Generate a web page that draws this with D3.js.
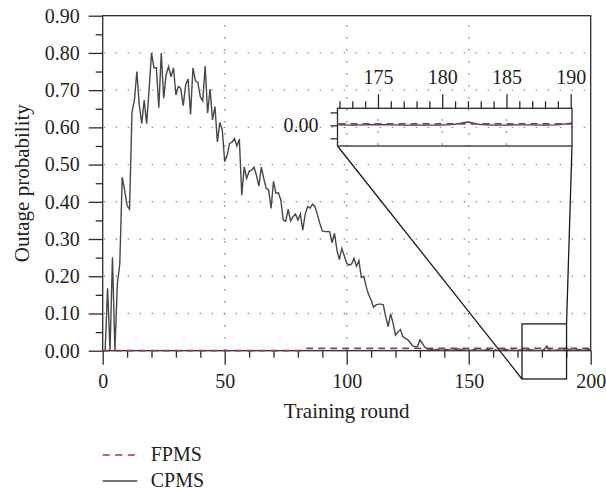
<!DOCTYPE html>
<html>
<head>
<meta charset="utf-8">
<script src="https://cdn.jsdelivr.net/npm/d3@7"></script>
<style>
  body { margin: 0; background: #fff; }
</style>
</head>
<body>
<div id="chart"></div>
<script>
// Outage probability per training round (rounds 0..200)
const cpms = [
  0, 0, 0.168, 0, 0.251, 0, 0.18, 0.233, 0.466, 0.43,
  0.39, 0.38, 0.64, 0.673, 0.75, 0.66, 0.61, 0.673, 0.61, 0.70,
  0.80, 0.76, 0.76, 0.653, 0.80, 0.678, 0.742, 0.763, 0.736, 0.76,
  0.687, 0.71, 0.705, 0.658, 0.714, 0.73, 0.635, 0.76, 0.725, 0.721,
  0.682, 0.671, 0.765, 0.638, 0.703, 0.62, 0.656, 0.561, 0.613, 0.593,
  0.508, 0.525, 0.557, 0.56, 0.57, 0.55, 0.568, 0.418, 0.494, 0.463,
  0.482, 0.485, 0.493, 0.472, 0.442, 0.493, 0.463, 0.436, 0.432, 0.382,
  0.455, 0.423, 0.424, 0.405, 0.351, 0.348, 0.38, 0.349, 0.36, 0.367,
  0.351, 0.367, 0.324, 0.367, 0.387, 0.383, 0.394, 0.387, 0.365, 0.342,
  0.322, 0.32, 0.32, 0.32, 0.29, 0.315, 0.27, 0.245, 0.275, 0.255,
  0.235, 0.23, 0.233, 0.248, 0.227, 0.242, 0.197, 0.2, 0.172, 0.15,
  0.136, 0.117, 0.123, 0.125, 0.125, 0.123, 0.091, 0.065, 0.099, 0.074,
  0.042, 0.05, 0.057, 0.038, 0.033, 0.03, 0.022, 0.013, 0.011, 0.011,
  0.029, 0.02, 0.009, 0.005, 0.004, 0.003, 0.002, 0.003, 0.002, 0.001,
  0.002, 0.003, 0.002, 0.001, 0.002, 0.003, 0.005, 0.003, 0.002, 0.001,
  0.002, 0.001, 0.003, 0.002, 0.001, 0.002, 0.001, 0.002, 0.003, 0.001,
  0.001, 0.002, 0.001, 0.001, 0.002, 0.004, 0.002, 0.001, 0.002, 0.001,
  0.001, 0.002, 0.002, 0.001, 0.002, 0.003, 0.002, 0.001, 0.001, 0.001,
  0.001, 0.004, 0.013, 0.003, 0.001, 0.001, 0.002, 0.002, 0.001, 0.002,
  0.008, 0.003, 0.002, 0.001, 0.002, 0.003, 0.002, 0.001, 0.002, 0.003,
  0.004
];
const fpms = [
  0, 0, 0, 0, 0, 0, 0, 0, 0, 0,
  0, 0, 0, 0, 0, 0, 0, 0, 0, 0,
  0, 0, 0, 0, 0, 0, 0, 0, 0, 0,
  0, 0, 0, 0, 0, 0, 0, 0, 0, 0,
  0, 0, 0, 0, 0, 0, 0, 0, 0, 0,
  0, 0, 0, 0, 0, 0, 0, 0, 0, 0,
  0, 0, 0, 0, 0, 0, 0, 0, 0, 0,
  0, 0, 0, 0, 0, 0, 0, 0, 0, 0,
  0, 0, 0.003, 0.006, 0.006, 0.006, 0.006, 0.006, 0.006, 0.006,
  0.006, 0.006, 0.006, 0.006, 0.006, 0.006, 0.006, 0.006, 0.006, 0.006,
  0.006, 0.006, 0.006, 0.006, 0.006, 0.006, 0.006, 0.006, 0.006, 0.006,
  0.006, 0.006, 0.006, 0.006, 0.006, 0.006, 0.006, 0.006, 0.006, 0.006,
  0.006, 0.006, 0.006, 0.006, 0.006, 0.006, 0.006, 0.006, 0.006, 0.006,
  0.006, 0.006, 0.006, 0.006, 0.006, 0.006, 0.006, 0.006, 0.006, 0.006,
  0.006, 0.006, 0.006, 0.006, 0.006, 0.006, 0.006, 0.006, 0.006, 0.006,
  0.006, 0.006, 0.006, 0.006, 0.006, 0.006, 0.006, 0.006, 0.006, 0.006,
  0.006, 0.006, 0.006, 0.006, 0.006, 0.006, 0.006, 0.006, 0.006, 0.006,
  0.006, 0.006, 0.006, 0.006, 0.006, 0.006, 0.006, 0.006, 0.006, 0.006,
  0.006, 0.006, 0.006, 0.006, 0.006, 0.006, 0.006, 0.006, 0.006, 0.006,
  0.006, 0.006, 0.006, 0.006, 0.006, 0.006, 0.006, 0.006, 0.006, 0.006,
  0.006
];
const seriesNames = ["FPMS", "CPMS"];
const xTicks = [0, 50, 100, 150, 200];
const xMinorTicks = [10, 20, 30, 40, 60, 70, 80, 90, 110, 120, 130, 140, 160, 170, 180, 190];
const yTicks = [0, 0.1, 0.2, 0.3, 0.4, 0.5, 0.6, 0.7, 0.8, 0.9];
const yMinorTicks = [0.05, 0.15, 0.25, 0.35, 0.45, 0.55, 0.65, 0.75, 0.85];
const yGrid = [0.1, 0.2, 0.3, 0.4, 0.5, 0.6, 0.7, 0.8];
const xGrid = [50, 100, 150];
const zoomX = [171.85, 190.1];      // zoomed window (rounds)
const zoomY = [-0.076, 0.072];      // zoomed window (probability)
const insetYDomain = [-0.08, 0.066];
const insetTicks = [175, 180, 185, 190];
const insetMinorTicks = [172, 173, 174, 176, 177, 178, 179, 181, 182, 183, 184, 186, 187, 188, 189];
const insetYTicks = [0];
const insetYMinor = [-0.05, 0.05];

const W = 606, H = 489;
const plot = { left: 102.7, right: 590.7, top: 15.7, bottom: 350.7 };
const colors = { FPMS: "#8c3a5e", CPMS: "#474747" };
const axisColor = "#2b2b2b";
const serif = "'Liberation Serif', serif";

const data = cpms.map((v, i) => ({ round: i, cpms: v, fpms: fpms[i] }));

const svg = d3.select("#chart").append("svg")
  .attr("width", W).attr("height", H);

const x = d3.scaleLinear().domain([0, 200]).range([plot.left, plot.right]);
const y = d3.scaleLinear().domain([0, 0.9]).range([plot.bottom, plot.top]);

// dotted grid
svg.append("g").selectAll("line.hgrid")
  .data(yGrid).join("line")
  .attr("x1", plot.left).attr("x2", plot.right)
  .attr("y1", d => y(d)).attr("y2", d => y(d))
  .attr("stroke", "#8a8a8a").attr("stroke-width", 1.4)
  .attr("stroke-dasharray", "1.4,10.6").attr("stroke-dashoffset", 11);

svg.append("g").selectAll("line.vgrid")
  .data(xGrid).join("line")
  .attr("x1", d => x(d)).attr("x2", d => x(d))
  .attr("y1", plot.top).attr("y2", plot.bottom)
  .attr("stroke", "#8a8a8a").attr("stroke-width", 1.4)
  .attr("stroke-dasharray", "1.4,10.6").attr("stroke-dashoffset", 2.7);

// axes
svg.append("g").attr("transform", `translate(0,${plot.bottom})`)
  .call(d3.axisBottom(x).tickValues(xTicks).tickSize(14).tickSizeOuter(0).tickPadding(9).tickFormat(d3.format("d")));
svg.append("g").attr("transform", `translate(0,${plot.bottom})`)
  .call(d3.axisBottom(x).tickValues(xMinorTicks).tickSize(7).tickSizeOuter(0).tickFormat(""));

svg.append("g").attr("transform", `translate(${plot.left},0)`)
  .call(d3.axisLeft(y).tickValues(yTicks).tickSize(14).tickSizeOuter(0).tickPadding(9).tickFormat(d3.format(".2f")));
svg.append("g").attr("transform", `translate(${plot.left},0)`)
  .call(d3.axisLeft(y).tickValues(yMinorTicks).tickSize(7).tickSizeOuter(0).tickFormat(""));

svg.selectAll(".domain").remove();
svg.selectAll(".tick line").attr("stroke", axisColor).attr("stroke-width", 1.3);
svg.selectAll(".tick text").style("font-size", "20px");

// frame
svg.append("rect")
  .attr("x", plot.left).attr("y", plot.top)
  .attr("width", plot.right - plot.left).attr("height", plot.bottom - plot.top)
  .attr("fill", "none").attr("stroke", axisColor).attr("stroke-width", 1.3);

// series
const lineCpms = d3.line().x(d => x(d.round)).y(d => y(d.cpms));
const lineFpms = d3.line().x(d => x(d.round)).y(d => y(d.fpms));

svg.append("path").datum(data)
  .attr("d", lineCpms).attr("fill", "none")
  .attr("stroke", colors.CPMS).attr("stroke-width", 1.4);
svg.append("path").datum(data)
  .attr("d", lineFpms).attr("fill", "none")
  .attr("stroke", colors.FPMS).attr("stroke-width", 1.8)
  .attr("stroke-dasharray", "7,5");

// axis titles
svg.append("text")
  .attr("x", x(100)).attr("y", 418)
  .attr("text-anchor", "middle")
  .style("font-size", "21px")
  .text("Training round");

svg.append("text")
  .attr("transform", `translate(28.5,${(plot.top + plot.bottom) / 2}) rotate(-90)`)
  .attr("text-anchor", "middle")
  .style("font-size", "21px")
  .text("Outage probability");

// zoom window in the main plot
svg.append("rect")
  .attr("x", x(zoomX[0])).attr("y", y(zoomY[1]))
  .attr("width", x(zoomX[1]) - x(zoomX[0]))
  .attr("height", y(zoomY[0]) - y(zoomY[1]))
  .attr("fill", "none").attr("stroke", "#1a1a1a").attr("stroke-width", 1.3);

// inset
const inset = { left: 337.5, right: 572, top: 108.3, bottom: 146 };
const xi = d3.scaleLinear().domain(zoomX).range([inset.left, inset.right]);
const yi = d3.scaleLinear().domain(insetYDomain).range([inset.bottom, inset.top]);

// connector lines
svg.append("line")
  .attr("x1", inset.left).attr("y1", inset.bottom)
  .attr("x2", x(zoomX[0])).attr("y2", y(zoomY[0]))
  .attr("stroke", "#1a1a1a").attr("stroke-width", 1.3);
svg.append("line")
  .attr("x1", inset.right).attr("y1", inset.bottom)
  .attr("x2", x(zoomX[1])).attr("y2", y(zoomY[1]))
  .attr("stroke", "#1a1a1a").attr("stroke-width", 1.3);

const ig = svg.append("g");

ig.append("clipPath").attr("id", "insetClip")
  .append("rect")
  .attr("x", inset.left).attr("y", inset.top)
  .attr("width", inset.right - inset.left).attr("height", inset.bottom - inset.top);

ig.append("g").selectAll("line")
  .data([175, 180, 185]).join("line")
  .attr("x1", d => xi(d)).attr("x2", d => xi(d))
  .attr("y1", inset.top).attr("y2", inset.bottom)
  .attr("stroke", "#8a8a8a").attr("stroke-width", 1.4)
  .attr("stroke-dasharray", "1.4,10.6").attr("stroke-dashoffset", 1);

ig.append("g").attr("transform", `translate(0,${inset.top})`)
  .call(d3.axisTop(xi).tickValues(insetTicks).tickSize(14).tickSizeOuter(0).tickPadding(10).tickFormat(d3.format("d")));
ig.append("g").attr("transform", `translate(0,${inset.top})`)
  .call(d3.axisTop(xi).tickValues(insetMinorTicks).tickSize(7).tickSizeOuter(0).tickFormat(""));
ig.append("g").attr("transform", `translate(${inset.left},0)`)
  .call(d3.axisLeft(yi).tickValues(insetYTicks).tickSize(7).tickSizeOuter(0).tickPadding(12).tickFormat(d3.format(".2f")));
ig.append("g").attr("transform", `translate(${inset.left},0)`)
  .call(d3.axisLeft(yi).tickValues(insetYMinor).tickSize(7).tickSizeOuter(0).tickFormat(""));

ig.selectAll(".domain").remove();
ig.selectAll(".tick line").attr("stroke", axisColor).attr("stroke-width", 1.3);
ig.selectAll(".tick text").style("font-size", "20px");

const insetData = data.filter(d => d.round >= 171 && d.round <= 191);
const iLineCpms = d3.line().x(d => xi(d.round)).y(d => yi(d.cpms));
const iLineFpms = d3.line().x(d => xi(d.round)).y(d => yi(d.fpms));

ig.append("path").datum(insetData)
  .attr("clip-path", "url(#insetClip)")
  .attr("d", iLineCpms).attr("fill", "none")
  .attr("stroke", colors.CPMS).attr("stroke-width", 1.4);
ig.append("path").datum(insetData)
  .attr("clip-path", "url(#insetClip)")
  .attr("d", iLineFpms).attr("fill", "none")
  .attr("stroke", colors.FPMS).attr("stroke-width", 1.8)
  .attr("stroke-dasharray", "7,5");

ig.append("rect")
  .attr("x", inset.left).attr("y", inset.top)
  .attr("width", inset.right - inset.left).attr("height", inset.bottom - inset.top)
  .attr("fill", "none").attr("stroke", axisColor).attr("stroke-width", 1.3);

// legend
const legend = svg.append("g").attr("transform", "translate(102.7,455)");
const entries = legend.selectAll("g").data(seriesNames).join("g")
  .attr("transform", (d, i) => `translate(0,${i * 26})`);
entries.append("line")
  .attr("x1", 0).attr("x2", 34.6)
  .attr("stroke", d => colors[d])
  .attr("stroke-width", d => d === "FPMS" ? 1.6 : 1.3)
  .attr("stroke-dasharray", d => d === "FPMS" ? "7,5.5" : null);
entries.append("text")
  .attr("x", 48).attr("y", 5.5)
  .style("font-size", "20px")
  .text(d => d);

// one serif face for every label
svg.selectAll("g").attr("font-family", null);
svg.selectAll("text")
  .style("font-family", serif)
  .attr("fill", "#231f20");
</script>
</body>
</html>
